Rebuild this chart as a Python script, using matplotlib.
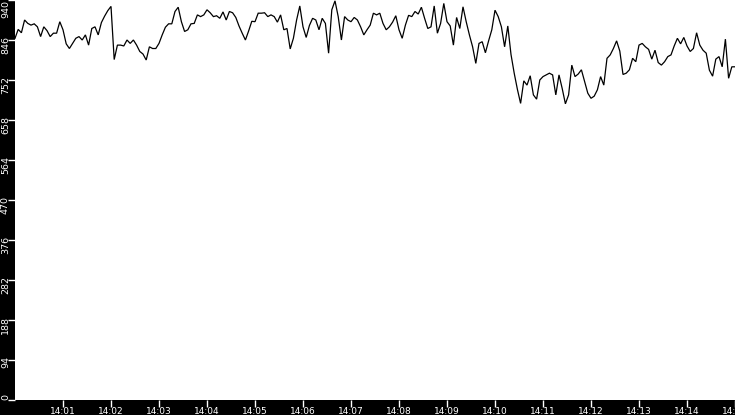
import matplotlib
matplotlib.use("Agg")
import matplotlib.pyplot as plt
import matplotlib.transforms as mtransforms
import datetime as dt

# ---- data ----
start_time = dt.datetime(2000, 1, 1, 14, 0, 0)
step_seconds = 4
values = [
    850, 871, 863, 893, 885, 881, 884, 877, 854, 877, 868, 854, 862, 862, 889, 870,
    837, 826, 838, 850, 854, 846, 858, 834, 873, 877, 858, 887, 902, 915, 925, 800,
    834, 834, 832, 846, 838, 846, 834, 819, 813, 799, 830, 826, 826, 838, 858, 876,
    884, 884, 913, 923, 889, 866, 870, 884, 885, 905, 901, 905, 917, 910, 901, 903,
    897, 912, 893, 913, 910, 899, 879, 862, 846, 867, 890, 889, 909, 909, 910, 901,
    905, 901, 888, 905, 870, 873, 825, 850, 893, 926, 877, 852, 880, 897, 893, 870,
    897, 885, 815, 917, 938, 901, 846, 901, 893, 889, 899, 893, 877, 858, 870, 881,
    909, 905, 909, 885, 870, 877, 888, 903, 870, 850, 881, 904, 901, 913, 907, 923,
    897, 873, 877, 926, 862, 885, 932, 889, 879, 834, 899, 873, 924, 889, 858, 830,
    791, 838, 842, 816, 844, 870, 916, 901, 877, 830, 879, 812, 768, 730, 697, 750,
    740, 762, 717, 707, 752, 760, 764, 768, 764, 717, 764, 732, 696, 717, 787, 760,
    766, 776, 748, 721, 709, 714, 729, 760, 740, 803, 811, 826, 844, 820, 765, 768,
    776, 803, 795, 834, 838, 830, 824, 801, 822, 793, 787, 795, 807, 811, 832, 850,
    837, 852, 832, 819, 826, 863, 834, 822, 815, 775, 761, 801, 807, 783, 848, 756,
    783, 783,
]
y_ticks = [0, 94, 188, 282, 376, 470, 564, 658, 752, 846, 940]
y_tick_labels = [str(v) for v in y_ticks]
x_tick_minutes = list(range(1, 16))
x_tick_labels = ["14:%02d" % m for m in x_tick_minutes]

times = [start_time + dt.timedelta(seconds=step_seconds * i) for i in range(len(values))]
x_ticks = [start_time + dt.timedelta(minutes=m) for m in x_tick_minutes]

# ---- figure ----
W, H = 735, 415
dpi = 100
fig = plt.figure(figsize=(W / dpi, H / dpi), dpi=dpi, facecolor="black")
ax = fig.add_axes([15 / W, 15 / H, 720 / W, 400 / H])
ax.set_facecolor("white")
for s in ax.spines.values():
    s.set_visible(False)

ax.plot(times, values, color="black", linewidth=0.9, solid_joinstyle="miter")

ax.set_xlim(start_time, start_time + dt.timedelta(minutes=15))
ax.set_ylim(0, 940)

ax.set_xticks(x_ticks)
ax.set_xticklabels(x_tick_labels)
ax.tick_params(axis="x", colors="white", length=5, width=1, pad=0,
               labelsize=6.5, direction="out")

ax.set_yticks(y_ticks)
ax.set_yticklabels([])
ax.tick_params(axis="y", colors="white", length=5, width=1, direction="out")

trans = ax.get_yaxis_transform()
for v, lab in zip(y_ticks, y_tick_labels):
    if v == y_ticks[-1]:
        off = mtransforms.ScaledTranslation(-9.5 / dpi, 0, fig.dpi_scale_trans)
        va = "top"
    elif v == 0:
        off = mtransforms.ScaledTranslation(-9.5 / dpi, 0, fig.dpi_scale_trans)
        va = "bottom"
    else:
        off = mtransforms.ScaledTranslation(-9.5 / dpi, 4.5 / dpi, fig.dpi_scale_trans)
        va = "top"
    ax.text(0, v, lab, transform=trans + off, rotation=90, ha="center", va=va,
            color="white", fontsize=6.8, clip_on=False)

fig.savefig("out.png", dpi=dpi, facecolor="black")
